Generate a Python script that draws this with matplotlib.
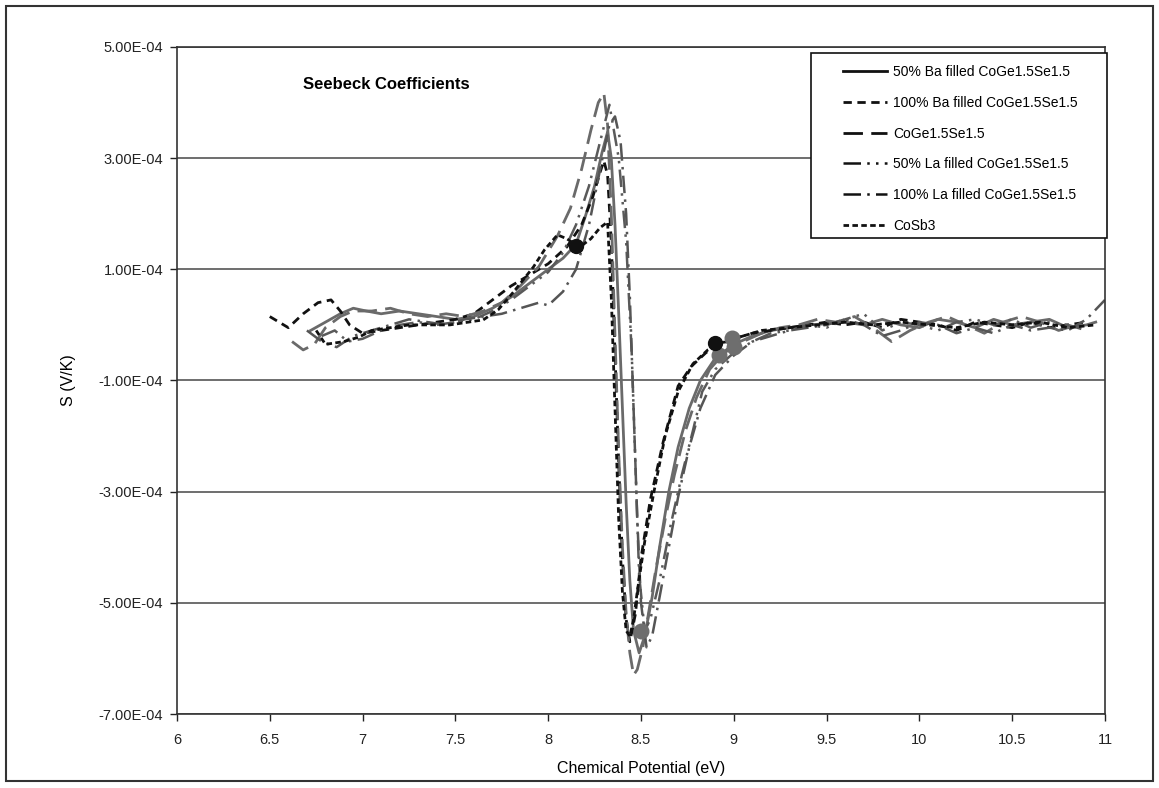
import matplotlib.pyplot as plt
from matplotlib.patches import Rectangle

plt.rcParams['font.family'] = ['Liberation Sans', 'DejaVu Sans']

# Seebeck coefficient vs chemical potential, S in units of 1e-4 V/K
SCALE = 1e-4

ba50_x = [6.72, 6.8, 6.88, 6.95, 7.02, 7.1, 7.2, 7.3, 7.4, 7.5, 7.6, 7.7, 7.8, 7.9, 8.0,
          8.08, 8.15, 8.2, 8.25, 8.29, 8.32, 8.34, 8.36, 8.38, 8.4, 8.42, 8.44, 8.46, 8.49,
          8.52, 8.56, 8.6, 8.65, 8.7, 8.76, 8.82, 8.9, 9.0, 9.1, 9.2, 9.3, 9.4, 9.5, 9.6,
          9.7, 9.8, 9.9, 10.0, 10.1, 10.2, 10.3, 10.4, 10.5, 10.6, 10.7, 10.8, 10.9, 10.95]
ba50_y = [-0.1, 0.05, 0.2, 0.3, 0.25, 0.2, 0.25, 0.2, 0.15, 0.1, 0.15, 0.3, 0.5, 0.75, 1.0,
          1.2, 1.45, 1.95, 2.5, 3.1, 3.47, 3.0, 1.8, 0.2, -1.5, -3.2, -4.6, -5.5, -5.9,
          -5.6, -4.9, -4.0, -3.0, -2.2, -1.5, -1.0, -0.6, -0.35, -0.2, -0.1, -0.05, 0.0, 0.02, 0.05,
          0.0, 0.1, 0.0, -0.05, 0.1, 0.05, -0.05, 0.1, 0.0, 0.05, 0.1, -0.05, 0.0, 0.05]

ba100_x = [6.5, 6.55, 6.6, 6.68, 6.76, 6.83, 6.88, 6.93, 7.0, 7.1, 7.2, 7.3, 7.4, 7.5, 7.6,
           7.7, 7.8, 7.9, 8.0, 8.1, 8.18, 8.24, 8.28, 8.3, 8.32, 8.34, 8.36, 8.38, 8.4, 8.42,
           8.44, 8.47, 8.5, 8.55, 8.62, 8.7, 8.77, 8.85, 8.92, 9.0, 9.1, 9.2, 9.3, 9.4, 9.5,
           9.6, 9.7, 9.8, 9.9, 10.0, 10.1, 10.2, 10.3, 10.4, 10.5, 10.6, 10.7, 10.8, 10.9]
ba100_y = [0.15, 0.05, -0.05, 0.2, 0.4, 0.45, 0.25, 0.0, -0.15, -0.1, -0.05, 0.0, 0.05, 0.1, 0.2,
           0.45, 0.7, 0.9, 1.1, 1.4, 1.8, 2.3, 2.75, 2.95, 2.7, 1.5, -0.5, -2.5, -4.2, -5.3,
           -5.7, -5.2, -4.2, -3.15, -2.1, -1.1, -0.75, -0.5, -0.35, -0.25, -0.15, -0.1, -0.05, 0.0, 0.05,
           0.0, 0.05, -0.05, 0.1, 0.05, 0.0, -0.1, 0.05, 0.0, -0.05, 0.05, -0.05, 0.0, 0.05]

coge_x = [6.62, 6.68, 6.74, 6.8, 6.88, 6.95, 7.05, 7.15, 7.25, 7.35, 7.45, 7.55, 7.65, 7.75,
          7.85, 7.95, 8.05, 8.12, 8.18, 8.23, 8.27, 8.3, 8.32, 8.34, 8.36, 8.38, 8.4, 8.42,
          8.44, 8.46, 8.48, 8.51, 8.54, 8.58, 8.63, 8.68, 8.74, 8.8, 8.87, 8.95, 9.05, 9.15,
          9.25, 9.35, 9.45, 9.55, 9.65, 9.75, 9.85, 9.95, 10.05, 10.15, 10.25, 10.35, 10.45,
          10.55, 10.65, 10.75, 10.85]
coge_y = [-0.3, -0.45, -0.35, -0.05, 0.15, 0.25, 0.25, 0.3, 0.2, 0.15, 0.2, 0.15, 0.25, 0.4,
          0.7, 1.05, 1.6, 2.1, 2.8, 3.5, 4.0, 4.17, 3.6, 2.0, -0.2, -2.3, -4.0, -5.2,
          -5.9, -6.3, -6.2, -5.8, -5.2, -4.4, -3.5, -2.7, -1.9, -1.3, -0.8, -0.5, -0.3, -0.15,
          -0.05, 0.0, 0.1, 0.05, 0.15, -0.05, -0.3, -0.1, 0.05, 0.15, 0.0, -0.15, 0.05,
          0.15, 0.05, -0.1, 0.0]

la50_x = [6.78, 6.85, 6.92, 7.0, 7.1, 7.2, 7.3, 7.4, 7.5, 7.6, 7.7, 7.8, 7.9, 8.0, 8.08,
          8.15, 8.22, 8.28, 8.33, 8.38, 8.42, 8.45, 8.47, 8.49, 8.52, 8.55, 8.6, 8.66, 8.72,
          8.78, 8.83, 8.9, 9.0, 9.1, 9.2, 9.3, 9.4, 9.5, 9.6, 9.7, 9.8, 9.9, 10.0, 10.1,
          10.2, 10.3, 10.4, 10.5, 10.6, 10.7, 10.8, 10.9]
la50_y = [-0.2, -0.1, -0.3, -0.25, -0.1, 0.0, 0.05, 0.0, 0.05, 0.1, 0.25, 0.45, 0.7, 0.95, 1.3,
          1.8, 2.5, 3.3, 3.96, 3.0, 1.5, -0.5, -2.5, -4.5, -5.5, -5.3, -4.6, -3.6, -2.7,
          -1.9, -1.2, -0.8, -0.5, -0.3, -0.15, -0.1, 0.0, -0.05, 0.1, 0.2, -0.1, 0.05, 0.0, -0.1,
          0.05, 0.1, 0.0, 0.1, -0.05, 0.05, 0.0, -0.1]

la100_x = [6.7, 6.78, 6.86, 6.95, 7.05, 7.15, 7.25, 7.35, 7.45, 7.55, 7.65, 7.75, 7.85, 7.95,
           8.0, 8.08, 8.15, 8.22, 8.28, 8.33, 8.36, 8.39, 8.42, 8.44, 8.46, 8.48, 8.5, 8.53,
           8.56, 8.6, 8.65, 8.7, 8.76, 8.82, 8.9, 9.0, 9.1, 9.2, 9.3, 9.4, 9.5, 9.6, 9.7,
           9.8, 9.9, 10.0, 10.1, 10.2, 10.3, 10.4, 10.5, 10.6, 10.7, 10.8, 10.9, 11.0]
la100_y = [-0.1, -0.3, -0.4, -0.2, -0.1, 0.0, 0.1, 0.05, 0.0, 0.1, 0.15, 0.2, 0.3, 0.4,
           0.35, 0.6, 1.0, 1.8, 2.8, 3.6, 3.75, 3.3, 2.0, 0.5, -1.5, -3.5, -5.0, -5.8,
           -5.6, -4.9, -4.0, -3.1, -2.2, -1.5, -0.9, -0.55, -0.3, -0.2, -0.1, -0.05, 0.0, 0.1, 0.0,
           -0.2, -0.1, 0.05, 0.0, -0.15, -0.05, -0.15, 0.0, -0.1, -0.05, -0.1, 0.1, 0.45]

cosb3_x = [6.75, 6.8, 6.9, 6.98, 7.05, 7.15, 7.25, 7.35, 7.47, 7.57, 7.65, 7.73, 7.81, 7.92,
           7.98, 8.05, 8.1, 8.17, 8.23, 8.28, 8.32, 8.34, 8.36, 8.38, 8.4, 8.42, 8.44, 8.46,
           8.48, 8.52, 8.57, 8.63, 8.7, 8.78, 8.86, 8.95, 9.05, 9.15, 9.3, 9.45, 9.6, 9.75,
           9.9, 10.05, 10.2, 10.35, 10.5, 10.65, 10.8, 10.95]
cosb3_y = [-0.1, -0.35, -0.3, -0.22, -0.1, -0.05, 0.0, 0.0, 0.0, 0.05, 0.09, 0.27, 0.58, 1.04,
           1.35, 1.62, 1.55, 1.4, 1.55, 1.75, 1.85, 0.5, -1.5, -3.5, -4.8, -5.5, -5.6, -5.3,
           -4.8, -3.9, -3.0, -2.0, -1.2, -0.7, -0.45, -0.3, -0.2, -0.1, -0.05, 0.0, 0.05, 0.0,
           0.05, 0.0, -0.05, 0.05, 0.0, 0.05, -0.05, 0.0]

# highlighted points
dot_black_x = [8.15, 8.9]
dot_black_y = [1.42, -0.33]
dot_gray_x = [8.5, 8.92, 8.99, 9.0]
dot_gray_y = [-5.5, -0.55, -0.23, -0.4]

labels = ['50% Ba filled CoGe1.5Se1.5', '100% Ba filled CoGe1.5Se1.5', 'CoGe1.5Se1.5',
          '50% La filled CoGe1.5Se1.5', '100% La filled CoGe1.5Se1.5', 'CoSb3']

fig = plt.figure(figsize=(11.59, 7.88), dpi=100)
ax = fig.add_axes([0.1527, 0.0939, 0.8007, 0.8465])


def s(vals):
    return [v * SCALE for v in vals]


ax.plot(ba50_x, s(ba50_y), color='#6a6a6a', lw=2.0, ls='-', label=labels[0])
ax.plot(ba100_x, s(ba100_y), color='#111111', lw=2.0, ls=(0, (3, 2)), label=labels[1])
ax.plot(coge_x, s(coge_y), color='#6a6a6a', lw=2.0, ls=(0, (7, 3)), label=labels[2])
ax.plot(la50_x, s(la50_y), color='#5a5a5a', lw=1.8, ls=(0, (7, 2.5, 1, 2.5, 1, 2.5)), label=labels[3])
ax.plot(la100_x, s(la100_y), color='#555555', lw=1.8, ls=(0, (7, 2.5, 1, 2.5)), label=labels[4])
ax.plot(cosb3_x, s(cosb3_y), color='#111111', lw=2.0, ls=(0, (2, 1.2)), label=labels[5])

ax.scatter(dot_gray_x, s(dot_gray_y), s=110, color='#6e6e6e', zorder=5)
ax.scatter(dot_black_x, s(dot_black_y), s=100, color='#111111', zorder=6)

ax.set_xlim(6, 11)
ax.set_ylim(-7e-4, 5e-4)
ax.set_xticks([6, 6.5, 7, 7.5, 8, 8.5, 9, 9.5, 10, 10.5, 11])
ax.set_xticklabels(['6', '6.5', '7', '7.5', '8', '8.5', '9', '9.5', '10', '10.5', '11'])
yt = [-7e-4, -5e-4, -3e-4, -1e-4, 1e-4, 3e-4, 5e-4]
ax.set_yticks(yt)
ax.set_yticklabels(['%.2E' % v for v in yt])
ax.tick_params(axis='both', direction='out', length=5, width=1, labelsize=10.5,
               colors='#222222', pad=5)
ax.tick_params(axis='x', pad=9)
ax.grid(axis='y', color='#555555', lw=1.2)
ax.set_axisbelow(True)
for sp in ax.spines.values():
    sp.set_linewidth(1.2)
    sp.set_color('#333333')

ax.set_xlabel('Chemical Potential (eV)', fontsize=11.5, labelpad=10)
ax.set_ylabel('S (V/K)', fontsize=11.5, labelpad=16)

ax.text(0.226, 0.943, 'Seebeck Coefficients', transform=ax.transAxes, ha='center',
        va='center', fontsize=12, fontweight='bold')

# legend entries without frame, the box is drawn separately
leg = ax.legend(loc='upper left', bbox_to_anchor=(0.7177, 0.9726), frameon=False,
                fontsize=10, handlelength=3.15, handletextpad=0.45, labelspacing=1.2,
                borderpad=0, borderaxespad=0)
for h in leg.get_lines():
    h.set_color('#111111')
ax.add_patch(Rectangle((0.683, 0.7136), 0.319, 0.2774, transform=ax.transAxes,
                       facecolor='white', edgecolor='#111111', lw=1.2, zorder=4,
                       clip_on=False))
leg.set_zorder(7)

# border around the whole figure
fig.patches.append(Rectangle((0.005, 0.009), 0.99, 0.983, transform=fig.transFigure,
                             fill=False, edgecolor='#333333', lw=1.5))

fig.savefig('out.png', dpi=100)
